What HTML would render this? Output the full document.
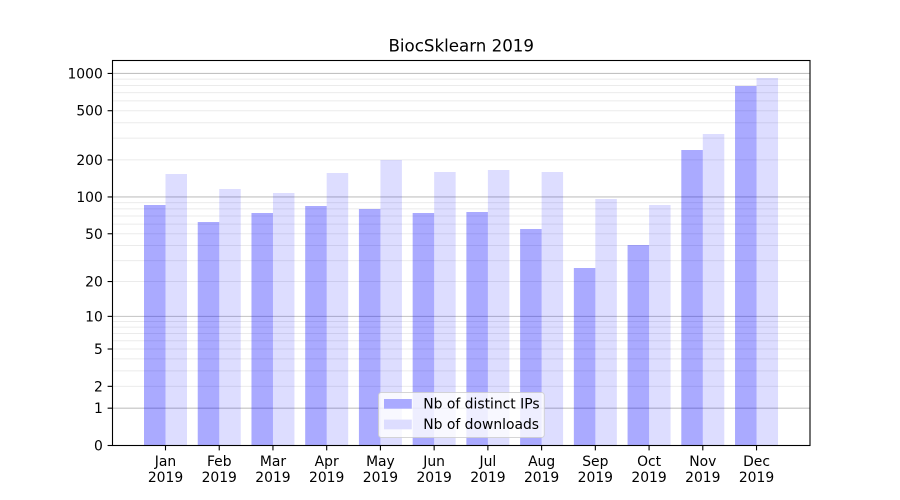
<!DOCTYPE html>
<html><head><meta charset="utf-8"><style>
html,body{margin:0;padding:0;background:#fff;}
svg{display:block;}
text{font-family:"DejaVu Sans","Liberation Sans",sans-serif;fill:#000;}
</style></head><body>
<svg width="900" height="500" viewBox="0 0 900 500" xmlns="http://www.w3.org/2000/svg">
<rect x="0" y="0" width="900" height="500" fill="#fff"/>
<text x="461.25" y="51.5" font-size="16.67" text-anchor="middle">BiocSklearn 2019</text>
<!-- minor grid -->
<g stroke="#ebebeb" stroke-width="1">
<line x1="112.5" x2="810" y1="386.34" y2="386.34"/>
<line x1="112.5" x2="810" y1="370.84" y2="370.84"/>
<line x1="112.5" x2="810" y1="358.83" y2="358.83"/>
<line x1="112.5" x2="810" y1="349.01" y2="349.01"/>
<line x1="112.5" x2="810" y1="340.71" y2="340.71"/>
<line x1="112.5" x2="810" y1="333.52" y2="333.52"/>
<line x1="112.5" x2="810" y1="327.17" y2="327.17"/>
<line x1="112.5" x2="810" y1="321.5" y2="321.5"/>
<line x1="112.5" x2="810" y1="281.54" y2="281.54"/>
<line x1="112.5" x2="810" y1="260.57" y2="260.57"/>
<line x1="112.5" x2="810" y1="245.52" y2="245.52"/>
<line x1="112.5" x2="810" y1="233.76" y2="233.76"/>
<line x1="112.5" x2="810" y1="224.12" y2="224.12"/>
<line x1="112.5" x2="810" y1="215.94" y2="215.94"/>
<line x1="112.5" x2="810" y1="208.85" y2="208.85"/>
<line x1="112.5" x2="810" y1="202.58" y2="202.58"/>
<line x1="112.5" x2="810" y1="159.9" y2="159.9"/>
<line x1="112.5" x2="810" y1="138.16" y2="138.16"/>
<line x1="112.5" x2="810" y1="122.71" y2="122.71"/>
<line x1="112.5" x2="810" y1="110.72" y2="110.72"/>
<line x1="112.5" x2="810" y1="100.92" y2="100.92"/>
<line x1="112.5" x2="810" y1="92.63" y2="92.63"/>
<line x1="112.5" x2="810" y1="85.45" y2="85.45"/>
<line x1="112.5" x2="810" y1="79.11" y2="79.11"/>
</g>
<!-- major grid -->
<g stroke="#c2c2c2" stroke-width="1.1">
<line x1="112.5" x2="810" y1="408.17" y2="408.17"/>
<line x1="112.5" x2="810" y1="316.37" y2="316.37"/>
<line x1="112.5" x2="810" y1="196.96" y2="196.96"/>
<line x1="112.5" x2="810" y1="73.45" y2="73.45"/>
</g>
<!-- bars -->
<g fill="rgb(0,0,255)" fill-opacity="0.333">
<rect x="144" y="205" width="21.5" height="240.5"/>
<rect x="197.73" y="222" width="21.5" height="223.5"/>
<rect x="251.46" y="213" width="21.5" height="232.5"/>
<rect x="305.19" y="206" width="21.5" height="239.5"/>
<rect x="358.92" y="209" width="21.5" height="236.5"/>
<rect x="412.65" y="213" width="21.5" height="232.5"/>
<rect x="466.38" y="212" width="21.5" height="233.5"/>
<rect x="520.11" y="229" width="21.5" height="216.5"/>
<rect x="573.84" y="268" width="21.5" height="177.5"/>
<rect x="627.57" y="245" width="21.5" height="200.5"/>
<rect x="681.3" y="150" width="21.5" height="295.5"/>
<rect x="735.03" y="86" width="21.5" height="359.5"/>
</g>
<g fill="rgb(0,0,255)" fill-opacity="0.135">
<rect x="165.5" y="174" width="21.5" height="271.5"/>
<rect x="219.23" y="189" width="21.5" height="256.5"/>
<rect x="272.96" y="193" width="21.5" height="252.5"/>
<rect x="326.69" y="173" width="21.5" height="272.5"/>
<rect x="380.42" y="160" width="21.5" height="285.5"/>
<rect x="434.15" y="172" width="21.5" height="273.5"/>
<rect x="487.88" y="170" width="21.5" height="275.5"/>
<rect x="541.61" y="172" width="21.5" height="273.5"/>
<rect x="595.34" y="199" width="21.5" height="246.5"/>
<rect x="649.07" y="205" width="21.5" height="240.5"/>
<rect x="702.8" y="134" width="21.5" height="311.5"/>
<rect x="756.53" y="78" width="21.5" height="367.5"/>
</g>
<!-- spines -->
<rect x="112.5" y="60.5" width="697.5" height="385" fill="none" stroke="#000" stroke-width="1.1"/>
<!-- y ticks -->
<g stroke="#000" stroke-width="1.1">
<line x1="107.6" x2="112.5" y1="445.5" y2="445.5"/>
<line x1="107.6" x2="112.5" y1="408.17" y2="408.17"/>
<line x1="107.6" x2="112.5" y1="386.34" y2="386.34"/>
<line x1="107.6" x2="112.5" y1="349.01" y2="349.01"/>
<line x1="107.6" x2="112.5" y1="316.37" y2="316.37"/>
<line x1="107.6" x2="112.5" y1="281.54" y2="281.54"/>
<line x1="107.6" x2="112.5" y1="233.76" y2="233.76"/>
<line x1="107.6" x2="112.5" y1="196.96" y2="196.96"/>
<line x1="107.6" x2="112.5" y1="159.9" y2="159.9"/>
<line x1="107.6" x2="112.5" y1="110.72" y2="110.72"/>
<line x1="107.6" x2="112.5" y1="73.45" y2="73.45"/>
</g>
<g font-size="13.89" text-anchor="end">
<text x="102.8" y="450.5">0</text>
<text x="102.8" y="413.2">1</text>
<text x="102.8" y="391.3">2</text>
<text x="102.8" y="354">5</text>
<text x="102.8" y="321.4">10</text>
<text x="102.8" y="286.5">20</text>
<text x="102.8" y="238.8">50</text>
<text x="102.8" y="202">100</text>
<text x="102.8" y="164.9">200</text>
<text x="102.8" y="115.7">500</text>
<text x="102.8" y="78.5">1000</text>
</g>
<!-- x ticks -->
<g stroke="#000" stroke-width="1.1">
<line x1="165.5" x2="165.5" y1="445.5" y2="450.4"/>
<line x1="219.23" x2="219.23" y1="445.5" y2="450.4"/>
<line x1="272.96" x2="272.96" y1="445.5" y2="450.4"/>
<line x1="326.69" x2="326.69" y1="445.5" y2="450.4"/>
<line x1="380.42" x2="380.42" y1="445.5" y2="450.4"/>
<line x1="434.15" x2="434.15" y1="445.5" y2="450.4"/>
<line x1="487.88" x2="487.88" y1="445.5" y2="450.4"/>
<line x1="541.61" x2="541.61" y1="445.5" y2="450.4"/>
<line x1="595.34" x2="595.34" y1="445.5" y2="450.4"/>
<line x1="649.07" x2="649.07" y1="445.5" y2="450.4"/>
<line x1="702.8" x2="702.8" y1="445.5" y2="450.4"/>
<line x1="756.53" x2="756.53" y1="445.5" y2="450.4"/>
</g>
<g font-size="13.89" text-anchor="middle">
<text x="165.5" y="466">Jan</text><text x="165.5" y="482">2019</text>
<text x="219.23" y="466">Feb</text><text x="219.23" y="482">2019</text>
<text x="272.96" y="466">Mar</text><text x="272.96" y="482">2019</text>
<text x="326.69" y="466">Apr</text><text x="326.69" y="482">2019</text>
<text x="380.42" y="466">May</text><text x="380.42" y="482">2019</text>
<text x="434.15" y="466">Jun</text><text x="434.15" y="482">2019</text>
<text x="487.88" y="466">Jul</text><text x="487.88" y="482">2019</text>
<text x="541.61" y="466">Aug</text><text x="541.61" y="482">2019</text>
<text x="595.34" y="466">Sep</text><text x="595.34" y="482">2019</text>
<text x="649.07" y="466">Oct</text><text x="649.07" y="482">2019</text>
<text x="702.8" y="466">Nov</text><text x="702.8" y="482">2019</text>
<text x="756.53" y="466">Dec</text><text x="756.53" y="482">2019</text>
</g>
<!-- legend -->
<rect x="378.5" y="392.5" width="165.8" height="45" rx="2.8" ry="2.8" fill="#fff" fill-opacity="0.8" stroke="#cccccc" stroke-opacity="0.8" stroke-width="1"/>
<rect x="384" y="399" width="27.8" height="9.7" fill="#aaaaff"/>
<rect x="384" y="419.6" width="27.8" height="9.7" fill="#ddddff"/>
<g font-size="13.89">
<text x="423.3" y="408.4">Nb of distinct IPs</text>
<text x="423.3" y="429.2">Nb of downloads</text>
</g>
</svg>
</body></html>
